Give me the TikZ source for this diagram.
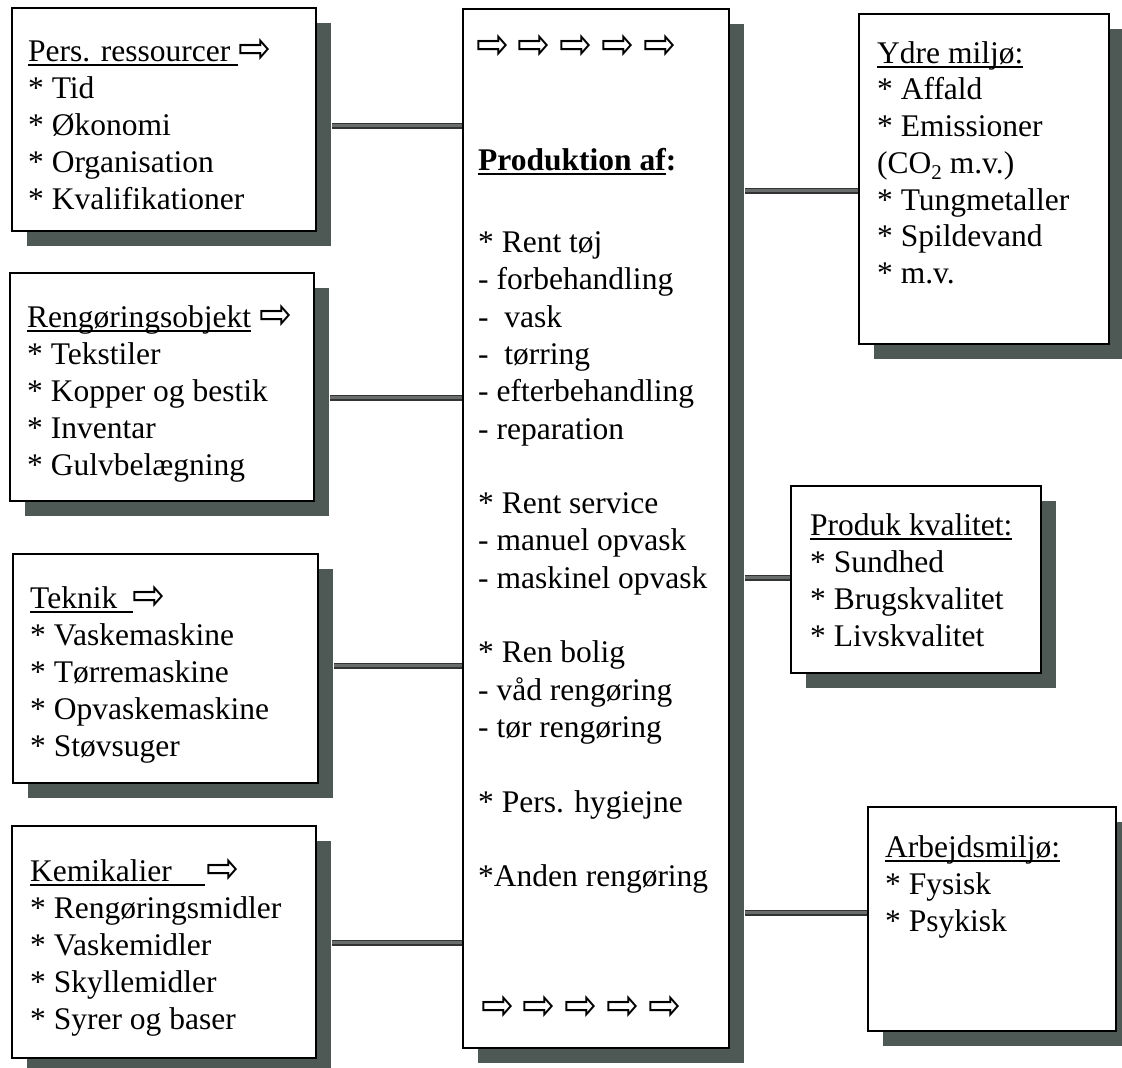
\documentclass[tikz,border=0pt]{standalone}
\usepackage{fontspec}
\usepackage{graphicx}
\setmainfont{Liberation Serif}
\newfontfamily\arrfont{DejaVu Sans}
\usetikzlibrary{calc,shadows}
\definecolor{shadowc}{RGB}{78,88,84}
\definecolor{connc}{RGB}{105,110,108}
\newsavebox\ulbox
\newcommand\ulx[1]{\sbox\ulbox{#1}\rlap{\rule[-4.5pt]{\wd\ulbox}{1.6pt}}\usebox\ulbox}
\newcommand\fl{\rule{0pt}{26pt}}
\newcommand\wa{\raisebox{-2.5pt}{\resizebox{33pt}{25pt}{\arrfont ⇨}}}
\newcommand\warow{\wa\hspace{8.7pt}\wa\hspace{8.7pt}\wa\hspace{8.7pt}\wa\hspace{8.7pt}\wa}
\tikzset{
  box/.style={draw=black, line width=1.8pt, fill=white, anchor=north west, inner sep=0pt,
    drop shadow={shadow xshift=15pt, shadow yshift=-15pt, opacity=1, fill=shadowc}},
  txt/.style={anchor=north west, inner sep=0pt, align=left, font=\fontsize{31.5}{37}\selectfont},
  conn/.style={draw=black!80, line width=1.3pt, double=connc, double distance=3pt},
}
\begin{document}
\begin{tikzpicture}[x=1pt,y=-1pt]
\useasboundingbox (0,0) rectangle (1122,1068);
% boxes
\node[box, minimum width=304pt, minimum height=223pt] (b1) at (11,7) {};
\node[box, minimum width=304pt, minimum height=228pt] (b2) at (9,272) {};
\node[box, minimum width=305pt, minimum height=229pt] (b3) at (12,553) {};
\node[box, minimum width=304pt, minimum height=232pt] (b4) at (11,825) {};
\node[box, minimum width=266pt, minimum height=1039pt] (cbox) at (462,8) {};
\node[box, minimum width=250pt, minimum height=330pt] (ydre) at (858,13) {};
\node[box, minimum width=250pt, minimum height=187pt] (prod) at (790,485) {};
\node[box, minimum width=248pt, minimum height=224pt] (arb) at (867,806) {};
% texts
\node[txt] (t1) at (28,35) {\fl\ulx{Pers. ressourcer\ }\wa\\ * Tid\\ * Økonomi\\ * Organisation\\ * Kvalifikationer};
\node[txt] (t2) at (27,301) {\fl\ulx{Rengøringsobjekt}\ \wa\\ * Tekstiler\\ * Kopper og bestik\\ * Inventar\\ * Gulvbelægning};
\node[txt] (t3) at (30,582) {\fl\ulx{Teknik\ \ }\wa\\ * Vaskemaskine\\ * Tørremaskine\\ * Opvaskemaskine\\ * Støvsuger};
\node[txt] (t4) at (30,855) {\fl\ulx{Kemikalier\hspace{33pt}}\hspace{2pt}\wa\\ * Rengøringsmidler\\ * Vaskemidler\\ * Skyllemidler\\ * Syrer og baser};
\node[txt, font=\fontsize{31.5}{37.3}\selectfont] (tc) at (478,144) {\fl\textbf{\ulx{Produktion af}:}\\[45pt]
  * Rent tøj\\ - forbehandling\\ -\ \ vask\\ -\ \ tørring\\ - efterbehandling\\ - reparation\\[37.3pt]
  * Rent service\\ - manuel opvask\\ - maskinel opvask\\[37.3pt]
  * Ren bolig\\ - våd rengøring\\ - tør rengøring\\[37.3pt]
  * Pers. hygiejne\\[37.3pt]
  *Anden rengøring};
\node[txt, font=\fontsize{31.5}{36.7}\selectfont] (ty) at (877,37) {\fl\ulx{Ydre miljø:}\\ * Affald\\ * Emissioner\\ (CO\raisebox{-6pt}{\fontsize{21}{21}\selectfont 2} m.v.)\\ * Tungmetaller\\ * Spildevand\\ * m.v.};
\node[txt] (tp) at (810,509) {\fl\ulx{Produk kvalitet:}\\ * Sundhed\\ * Brugskvalitet\\ * Livskvalitet};
\node[txt] (ta) at (885,831) {\fl\ulx{Arbejdsmiljø:}\\ * Fysisk\\ * Psykisk};
% arrow rows
\node[anchor=west, inner sep=0pt] (atop) at (476,47) {\warow};
\node[anchor=west, inner sep=0pt] (abot) at (481,1008) {\warow};
% connectors
\draw[conn] ($(b1.east)+(15,6.5)$) -- ($(b1.east -| cbox.west)+(0,6.5)$);
\draw[conn] ($(b2.east)+(15,11)$) -- ($(b2.east -| cbox.west)+(0,11)$);
\draw[conn] ($(b3.east)+(15,-2.5)$) -- ($(b3.east -| cbox.west)+(0,-2.5)$);
\draw[conn] ($(b4.east)+(15,1)$) -- ($(b4.east -| cbox.west)+(0,1)$);
\draw[conn] ($(ydre.west -| cbox.east)+(15,12)$) -- ($(ydre.west)+(0,12)$);
\draw[conn] ($(prod.west -| cbox.east)+(15,-1.5)$) -- ($(prod.west)+(0,-1.5)$);
\draw[conn] ($(arb.west -| cbox.east)+(15,-6)$) -- ($(arb.west)+(0,-6)$);
\end{tikzpicture}
\end{document}
